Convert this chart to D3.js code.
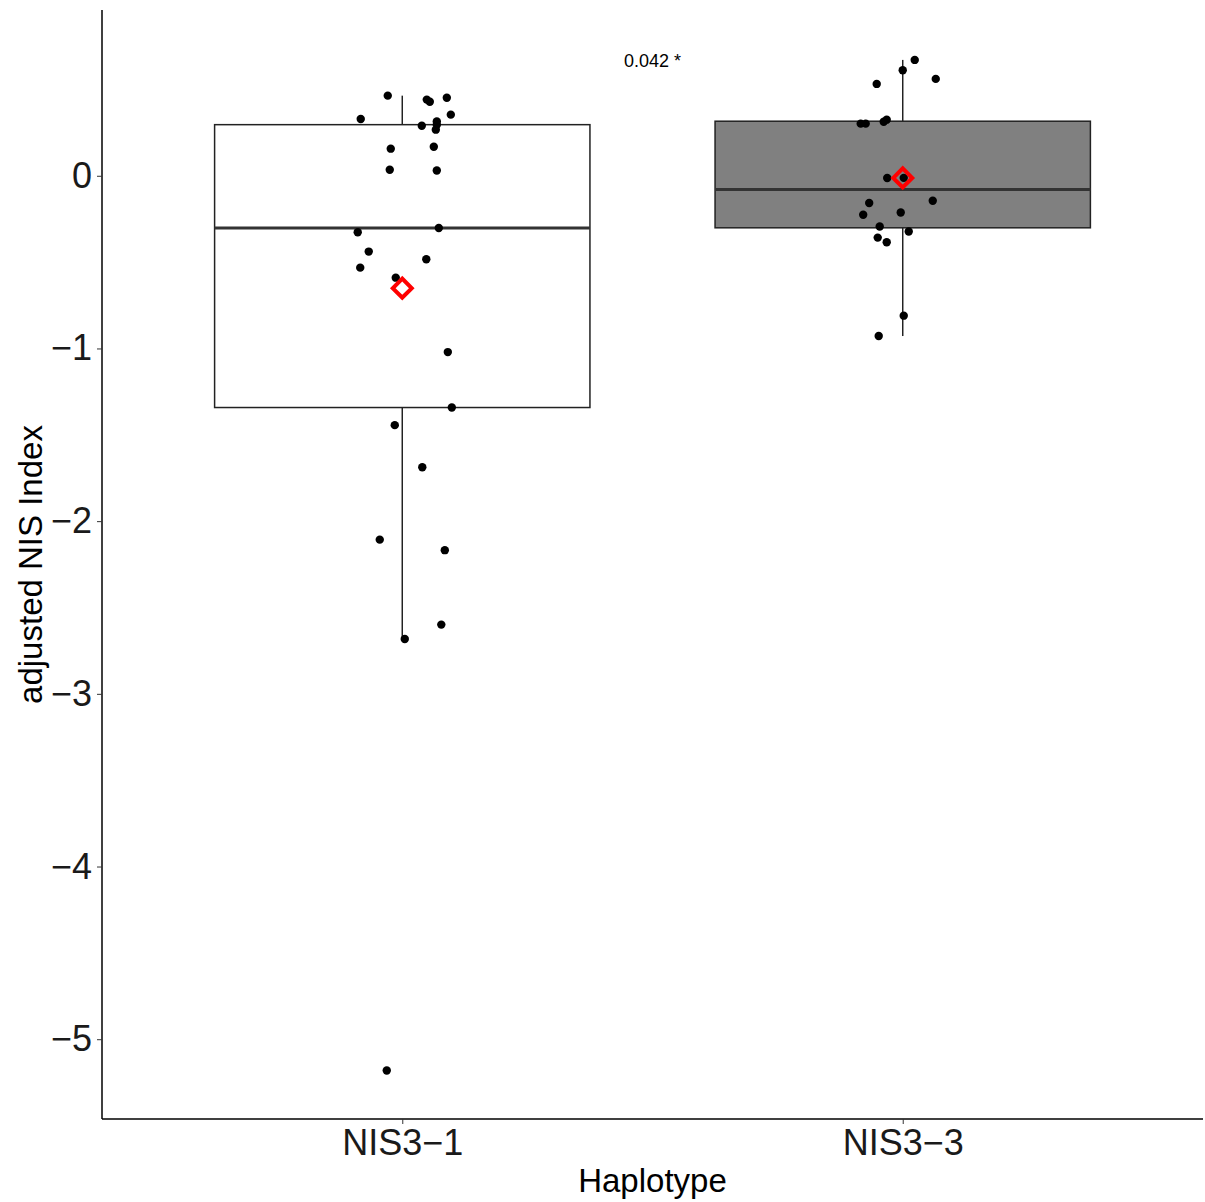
<!DOCTYPE html>
<html>
<head>
<meta charset="utf-8">
<script src="https://cdn.jsdelivr.net/npm/d3@7"></script>
<style>
  html, body { margin: 0; padding: 0; background: #fff; }
  svg { display: block; font-family: "Liberation Sans", Arial, sans-serif; }
</style>
</head>
<body>
<svg id="chart" width="1205" height="1202"></svg>
<script>
// ---- data ----
const categories = ["NIS3\u22121", "NIS3\u22123"];
const boxFills = ["#ffffff", "#808080"];

// NIS3-1 observations: value and horizontal jitter (category units)
const nis31Values = [0.464, 0.329, 0.441, 0.429, 0.452, 0.354, 0.290, 0.315, 0.296, 0.267,
  0.157, 0.168, 0.035, 0.031, -0.327, -0.302, -0.439, -0.532, -0.483, -0.590,
  -1.021, -1.342, -1.444, -1.688, -2.107, -2.168, -2.599, -2.682, -5.181];
const nis31Jitter = [-0.029, -0.083, 0.049, 0.055, 0.089, 0.097, 0.039, 0.069, 0.069, 0.067,
  -0.023, 0.063, -0.025, 0.069, -0.089, 0.073, -0.067, -0.084, 0.048, -0.013,
  0.091, 0.099, -0.015, 0.040, -0.045, 0.085, 0.078, 0.005, -0.031];

// NIS3-3 observations
const nis33Values = [0.671, 0.611, 0.532, 0.561, 0.302, 0.302, 0.313, 0.325, -0.013, -0.012,
  -0.158, -0.226, -0.213, -0.145, -0.294, -0.323, -0.358, -0.385, -0.810, -0.928];
const nis33Jitter = [0.024, 0.000, -0.052, 0.066, -0.084, -0.074, -0.038, -0.032, -0.031, 0.002,
  -0.067, -0.079, -0.004, 0.060, -0.046, 0.012, -0.050, -0.032, 0.002, -0.048];

const yTicks = [-5, -4, -3, -2, -1, 0];
const yTickLabels = ["\u22125", "\u22124", "\u22123", "\u22122", "\u22121", "0"];
const pLabel = "0.042 *";
const xTitle = "Haplotype";
const yTitle = "adjusted NIS Index";

// ---- layout ----
const svg = d3.select("#chart");
const mLeft = 102, mRight = 1203, mTop = 10, mBottom = 1119;

const x = d3.scalePoint().domain(categories).range([mLeft, mRight]).padding(0.6);
const step = x.step();
const y = d3.scaleLinear().domain([-5.462, 0.96]).range([mBottom, mTop]);

const groups = [
  { cat: categories[0], values: nis31Values, jitter: nis31Jitter, fill: boxFills[0] },
  { cat: categories[1], values: nis33Values, jitter: nis33Jitter, fill: boxFills[1] }
];

groups.forEach(g => {
  const s = g.values.slice().sort(d3.ascending);
  const q1 = d3.quantile(s, 0.25), med = d3.quantile(s, 0.5), q3 = d3.quantile(s, 0.75);
  const iqr = q3 - q1;
  const lo = d3.min(s.filter(v => v >= q1 - 1.5 * iqr));
  const hi = d3.max(s.filter(v => v <= q3 + 1.5 * iqr));
  g.stats = { q1, med, q3, lo, hi, mean: d3.mean(s) };
});

const gBox = svg.append("g");
groups.forEach(g => {
  const cx = x(g.cat), w = step * 0.75, st = g.stats;
  gBox.append("line").attr("x1", cx).attr("x2", cx).attr("y1", y(st.hi)).attr("y2", y(st.q3))
    .attr("stroke", "#222").attr("stroke-width", 1.5);
  gBox.append("line").attr("x1", cx).attr("x2", cx).attr("y1", y(st.q1)).attr("y2", y(st.lo))
    .attr("stroke", "#222").attr("stroke-width", 1.5);
  gBox.append("rect").attr("x", cx - w / 2).attr("width", w)
    .attr("y", y(st.q3)).attr("height", y(st.q1) - y(st.q3))
    .attr("fill", g.fill).attr("stroke", "#222").attr("stroke-width", 1.5);
  gBox.append("line").attr("x1", cx - w / 2).attr("x2", cx + w / 2)
    .attr("y1", y(st.med)).attr("y2", y(st.med))
    .attr("stroke", "#333").attr("stroke-width", 3);
});

// points
const gPts = svg.append("g");
groups.forEach(g => {
  gPts.selectAll(null).data(g.values.map((v, i) => ({ v, j: g.jitter[i] })))
    .enter().append("circle")
    .attr("cx", d => x(g.cat) + d.j * step)
    .attr("cy", d => y(d.v))
    .attr("r", 4.2)
    .attr("fill", "#000");
});

// mean diamonds
const diamond = d3.symbol().type(d3.symbolSquare).size(180);
groups.forEach(g => {
  svg.append("path").attr("d", diamond())
    .attr("transform", `translate(${x(g.cat)},${y(g.stats.mean)}) rotate(45)`)
    .attr("fill", "none").attr("stroke", "#ff0000").attr("stroke-width", 4);
});

// axes
const yAxis = d3.axisLeft(y).tickValues(yTicks).tickFormat((d, i) => yTickLabels[i]).tickSize(5).tickPadding(5);
const gy = svg.append("g").attr("transform", `translate(${mLeft},0)`).call(yAxis);
gy.select(".domain").attr("d", `M0,${mTop}V${mBottom}`).attr("stroke", "#000").attr("stroke-width", 1.5);
gy.selectAll(".tick line").attr("stroke", "#333");
gy.selectAll(".tick text").attr("font-size", 36).attr("fill", "#1a1a1a")
  .attr("font-family", "Liberation Sans, Arial, sans-serif");

const xAxis = d3.axisBottom(x).tickSize(5).tickPadding(5);
const gx = svg.append("g").attr("transform", `translate(0,${mBottom})`).call(xAxis);
gx.select(".domain").attr("d", `M${mLeft},0H${mRight}`).attr("stroke", "#000").attr("stroke-width", 1.5);
gx.selectAll(".tick line").attr("stroke", "#333");
gx.selectAll(".tick text").attr("font-size", 36).attr("fill", "#1a1a1a")
  .attr("font-family", "Liberation Sans, Arial, sans-serif");

// titles
svg.append("text").attr("x", (mLeft + mRight) / 2).attr("y", 1192)
  .attr("text-anchor", "middle").attr("font-size", 33).attr("fill", "#000").text(xTitle);
svg.append("text").attr("transform", `translate(42,${(mTop + mBottom) / 2}) rotate(-90)`)
  .attr("text-anchor", "middle").attr("font-size", 33).attr("fill", "#000").text(yTitle);

// p-value annotation
svg.append("text").attr("x", (x(categories[0]) + x(categories[1])) / 2).attr("y", 67)
  .attr("text-anchor", "middle").attr("font-size", 18).attr("fill", "#000").text(pLabel);
</script>
</body>
</html>
